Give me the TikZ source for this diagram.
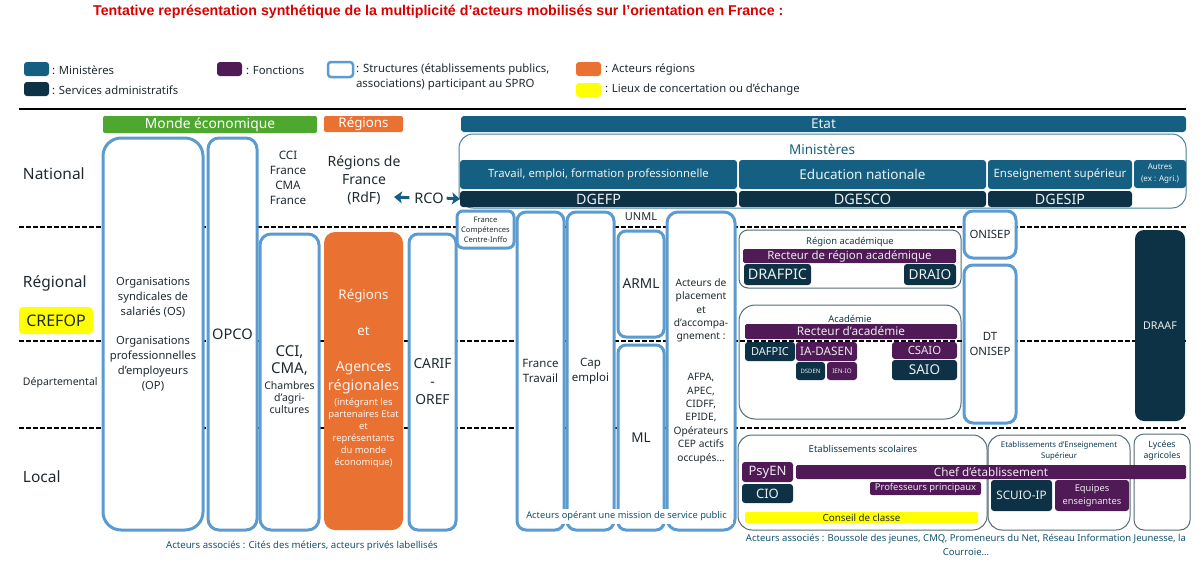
\documentclass[tikz,border=0pt]{standalone}
\usepackage{fontspec}
\setmainfont{Noto Sans}
\newfontfamily\titlefont{Liberation Sans}
\usetikzlibrary{arrows.meta}
\definecolor{minis}{HTML}{156082}
\definecolor{serv}{HTML}{0E3245}
\definecolor{fonc}{HTML}{4F1A55}
\definecolor{struct}{HTML}{5B9BD0}
\definecolor{orng}{HTML}{E97132}
\definecolor{grn}{HTML}{4EA72E}
\definecolor{ylw}{HTML}{FFFF00}
\definecolor{inktxt}{HTML}{1E2A30}
\newcommand\fs[1]{\fontsize{#1}{#1}\selectfont}
\newcommand\bx[7]{%
  \pgfmathsetmacro\bxw{#4-#2}\pgfmathsetmacro\bxh{#5-#3}%
  \pgfmathsetmacro\bxx{(#2+#4)/2}\pgfmathsetmacro\bxy{(#3+#5)/2}%
  \node[basebox,minimum width=\bxw pt,minimum height=\bxh pt,#6] (#1) at (\bxx,\bxy) {#7};}
\tikzset{
  basebox/.style={inner sep=0pt,outer sep=0pt,align=center,text=inktxt},
  ministere/.style={fill=minis,rounded corners=3pt,text=white!92!minis},
  service/.style={fill=serv,rounded corners=3pt,text=white!92!serv},
  fonction/.style={fill=fonc,rounded corners=3pt,text=white!90!fonc},
  structure/.style={draw=struct,line width=3pt,fill=white,rounded corners=#1},
  structure/.default=9pt,
  cadre/.style={draw=minis!45!black!70,line width=1pt,fill=white,rounded corners=#1},
  cadre/.default=16pt,
  lieu/.style={fill=ylw,rounded corners=3pt},
  label/.style={inner sep=0pt,outer sep=0pt,align=center,text=inktxt},
  legendtxt/.style={inner sep=0pt,outer sep=0pt,anchor=west,align=left,text=inktxt,font=\fs{11.3}},
  asso/.style={inner sep=0pt,outer sep=0pt,align=center,text=minis!85!black,font=\fs{9.6}},
  niveau/.style={draw=black,line width=1.1pt,dash pattern=on 5pt off 2pt},
  fleche/.style={draw=minis,line width=3pt,-{Stealth[length=8pt,width=12pt,inset=2pt]}},
}
\begin{document}
\begin{tikzpicture}[x=1pt,y=-1pt]
\useasboundingbox (0,0) rectangle (1200,565);
% title
\node[inner sep=0pt,anchor=west,text=red!85!black,font=\titlefont\bfseries\fs{14.2}] (titre) at (93,12)
  {Tentative représentation synthétique de la multiplicité d’acteurs mobilisés sur l’orientation en France :};
% legend
\bx{lgm}{24}{62}{49}{76}{ministere}{}
\node[legendtxt] (lgmt) at (52,70) {: Ministères};
\bx{lgs}{24}{82}{49}{96}{service}{}
\node[legendtxt] (lgst) at (52,90) {: Services administratifs};
\bx{lgf}{217}{62}{242}{76}{fonction}{}
\node[legendtxt] (lgft) at (246,70) {: Fonctions};
\bx{lgt}{328}{62}{353}{77}{structure=3pt,line width=2.5pt}{}
\node[legendtxt,font=\fontsize{11.4}{14.5}\selectfont] (lgtt) at (356,77) {: Structures (établissements publics,\\associations) participant au SPRO};
\bx{lga}{576}{62}{601}{76}{fill=orng,rounded corners=3pt}{}
\node[legendtxt] (lgat) at (605,70) {: Acteurs régions};
\bx{lgl}{576}{83}{601}{97}{lieu}{}
\node[legendtxt] (lglt) at (605,90) {: Lieux de concertation ou d’échange};
% top rule
\coordinate (rg) at (19,109); \coordinate (rd) at (1186,109);
\draw[line width=1.6pt,black] (rg) -- (rd);
% headers
\bx{monde}{103}{116}{317}{133}{fill=grn,rounded corners=2pt,text=white,font=\fs{13.8}}{Monde économique}
\bx{regh}{324}{116}{403}{132}{fill=orng,rounded corners=2pt,text=white,font=\fs{13.3}}{Régions}
\bx{etat}{461}{116}{1186}{132}{ministere,font=\fs{13.5}}{Etat}
% levels
\node[label,anchor=west,font=\fs{15.5}] (nat) at (23,174) {National};
\node[label,anchor=west,font=\fs{15.5}] (reg) at (23,283) {Régional};
\bx{crefop}{19}{307}{93}{334}{lieu,rounded corners=4pt,font=\fs{16}}{CREFOP}
\node[label,anchor=west,font=\fs{10.5}] (dep) at (23,383) {Départemental};
\node[label,anchor=west,font=\fs{15.5}] (loc) at (23,477) {Local};
% ministries
\bx{minbox}{459}{134}{1186}{208}{cadre=14pt,draw=minis!80}{}
\node[label,text=minis,font=\fs{13.5}] (mint) at (822,149) {Ministères};
\bx{trav}{460}{160}{737}{189}{ministere,font=\fs{11.3}}{Travail, emploi, formation professionnelle}
\bx{edu}{739}{160}{986}{189}{ministere,font=\fs{13.5}}{Education nationale}
\bx{sup}{988}{160}{1132}{189}{ministere,font=\fs{11.5}}{Enseignement supérieur}
\bx{autr}{1134}{160}{1186}{188}{ministere,font=\fontsize{8}{12}\selectfont}{Autres\\(ex : Agri.)}
\bx{dgefp}{460}{191}{737}{207}{service,font=\fs{14.3}}{DGEFP}
\bx{dgesco}{739}{191}{986}{207}{service,font=\fs{14.5}}{DGESCO}
\bx{dgesip}{988}{191}{1132}{207}{service,font=\fs{14.3}}{DGESIP}
% academic frames (under the dashed levels)
\bx{regac}{739}{230}{961}{288}{cadre=9pt}{}
\bx{acad}{739}{305}{961}{419}{cadre=16pt}{}
% dashed levels
\foreach \yy/\nm in {227/a,341/b,428/c}{
  \coordinate (dg\nm) at (19,\yy); \coordinate (dd\nm) at (1187,\yy);
  \draw[niveau] (dg\nm) -- (dd\nm);
}
% left column
\bx{os}{103}{138}{203}{530}{structure=18pt,font=\fontsize{11.2}{15}\selectfont}{Organisations\\syndicales de\\salariés (OS)\\[14pt]Organisations\\professionnelles\\d’employeurs\\(OP)}
\bx{opco}{208}{138}{257}{530}{structure=11pt,font=\fs{14.6}}{OPCO}
\node[label,font=\fontsize{11.6}{15}\selectfont] (ccifr) at (288,178) {CCI\\France\\CMA\\France};
\bx{cci}{260}{234}{319}{530}{structure=11pt,font=\fontsize{10.5}{12.3}\selectfont}{\mbox{}\\[-6pt]\fs{15}CCI,\\[3.5pt]\fs{15}CMA,\\[3.5pt]Chambres\\d’agri-\\cultures}
\bx{rega}{324}{232}{403}{530}{fill=orng,rounded corners=11pt,text=white!92!orng,font=\fontsize{9.4}{12}\selectfont}{\mbox{}\\[-7pt]\fs{13.3}Régions\\[24pt]\fs{13.3}et\\[24pt]\fs{14}Agences\\[4pt]\fs{14.5}régionales\\[3pt](intégrant les\\partenaires Etat\\et\\représentants\\du monde\\économique)}
\node[label,font=\fontsize{14}{18}\selectfont] (rdf) at (364,180) {Régions de\\France\\(RdF)};
\node[label,font=\fs{14.5}] (rco) at (429,198) {RCO};
\coordinate (rcog) at (394,197);
\draw[fleche,shorten <=5pt] (rco.west) -- (rcog);
\draw[fleche,shorten <=3pt] (rco.east) -- (dgefp.west);
\bx{carif}{409}{234}{456}{530}{structure=9pt,font=\fontsize{13.8}{18}\selectfont}{CARIF\\-\\OREF}
% service public actors
\bx{fc}{457}{211}{514}{248}{structure=6pt,font=\fontsize{7.6}{10}\selectfont}{France\\Compétences\\Centre-Inffo}
\bx{ft}{517}{212}{564}{530}{structure=9pt,font=\fontsize{11.5}{14.5}\selectfont}{France\\Travail}
\bx{cap}{567}{212}{614}{530}{structure=9pt,font=\fontsize{11.5}{14.5}\selectfont}{Cap\\emploi}
\node[label,font=\fs{11}] (unml) at (641,217) {UNML};
\bx{arml}{618}{231}{664}{337}{structure=8pt,font=\fs{13.7}}{ARML}
\bx{ml}{618}{345}{664}{530}{structure=8pt,font=\fs{13.5}}{ML}
\bx{plac}{667}{212}{735}{530}{structure=11pt,font=\fontsize{10.2}{13.4}\selectfont}{Acteurs de\\placement\\et\\d’accompa-\\gnement :\\[27.4pt]AFPA,\\APEC,\\CIDFF,\\EPIDE,\\Opérateurs\\CEP actifs\\occupés\dots}
\bx{sp}{520}{509}{733}{524}{fill=white,text=minis!85!black,font=\fs{9.3}}{Acteurs opérant une mission de service public}
% region academique content
\node[label,text=minis!60!black,font=\fs{9.4}] (regact) at (850,242) {Région académique};
\bx{rectr}{743}{249}{956}{263}{fonction,rounded corners=1.5pt,font=\fs{11.4}}{Recteur de région académique}
\bx{drafpic}{744}{264}{811}{285}{service,font=\fs{14.5}}{DRAFPIC}
\bx{draio}{904}{264}{956}{285}{service,font=\fs{13.7}}{DRAIO}
% academie content
\node[label,text=minis!60!black,font=\fs{9.4}] (acadt) at (850,319) {Académie};
\bx{recta}{745}{324}{957}{339}{fonction,rounded corners=1.5pt,font=\fs{11.8}}{Recteur d’académie}
\bx{dafpic}{745}{342}{795}{361}{service,font=\fs{11}}{DAFPIC}
\bx{iadasen}{796}{342}{857}{361}{fonction,font=\fs{11.7}}{IA-DASEN}
\bx{csaio}{892}{342}{957}{359}{fonction,font=\fs{11.4}}{CSAIO}
\bx{saio}{892}{360}{957}{380}{service,font=\fs{13.5}}{SAIO}
\bx{dsden}{796}{362}{825}{380}{service,font=\fs{6}}{DSDEN}
\bx{ienio}{827}{362}{857}{380}{fonction,font=\fs{6.3}}{IEN-IO}
% onisep, draaf
\bx{onisep}{964}{211}{1016}{258}{structure=9pt,font=\fs{11.4}}{ONISEP}
\bx{dtonisep}{964}{265}{1016}{423}{structure=9pt,font=\fontsize{11.4}{14.5}\selectfont}{DT\\ONISEP}
\bx{draaf}{1135}{230}{1185}{421}{service,rounded corners=9pt,font=\fs{10.7}}{DRAAF}
% local
\bx{etabs}{738}{435}{987}{530}{cadre=14pt}{}
\node[label,text=minis!60!black,font=\fs{9.5}] (etabst) at (863,449) {Etablissements scolaires};
\bx{etsup}{988}{435}{1130}{530}{cadre=14pt}{}
\node[label,text=minis!60!black,font=\fontsize{7.8}{10.5}\selectfont] (etsupt) at (1059,451) {Etablissements d’Enseignement\\Supérieur};
\bx{lyc}{1134}{434}{1190}{530}{cadre=10pt}{}
\node[label,text=minis!60!black,font=\fontsize{8.7}{11}\selectfont] (lyct) at (1162,451) {Lycées\\agricoles};
\bx{psyen}{742}{462}{793}{482}{fonction,font=\fs{13}}{PsyEN}
\bx{cio}{742}{484}{793}{503}{service,font=\fs{13}}{CIO}
\bx{chef}{796}{465}{1186}{479}{fonction,rounded corners=1.5pt,font=\fs{11.7}}{Chef d’établissement}
\bx{pp}{870}{482}{981}{495}{fonction,rounded corners=2pt,font=\fs{9.4}}{Professeurs principaux}
\bx{scuio}{991}{480}{1052}{511}{service,font=\fs{11.7}}{SCUIO-IP}
\bx{equip}{1055}{480}{1129}{511}{fonction,font=\fontsize{9.3}{13}\selectfont}{Equipes\\enseignantes}
\bx{conseil}{745}{512}{978}{523}{lieu,rounded corners=1.5pt,font=\fs{9.8}}{Conseil de classe}
% associated actors
\node[asso] (assoc1) at (302,546) {Acteurs associés : Cités des métiers, acteurs privés labellisés};
\node[asso,font=\fontsize{9.5}{14}\selectfont] (assoc2) at (966,545) {Acteurs associés : Boussole des jeunes, CMQ, Promeneurs du Net, Réseau Information Jeunesse, la\\Courroie\dots};
\end{tikzpicture}
\end{document}
